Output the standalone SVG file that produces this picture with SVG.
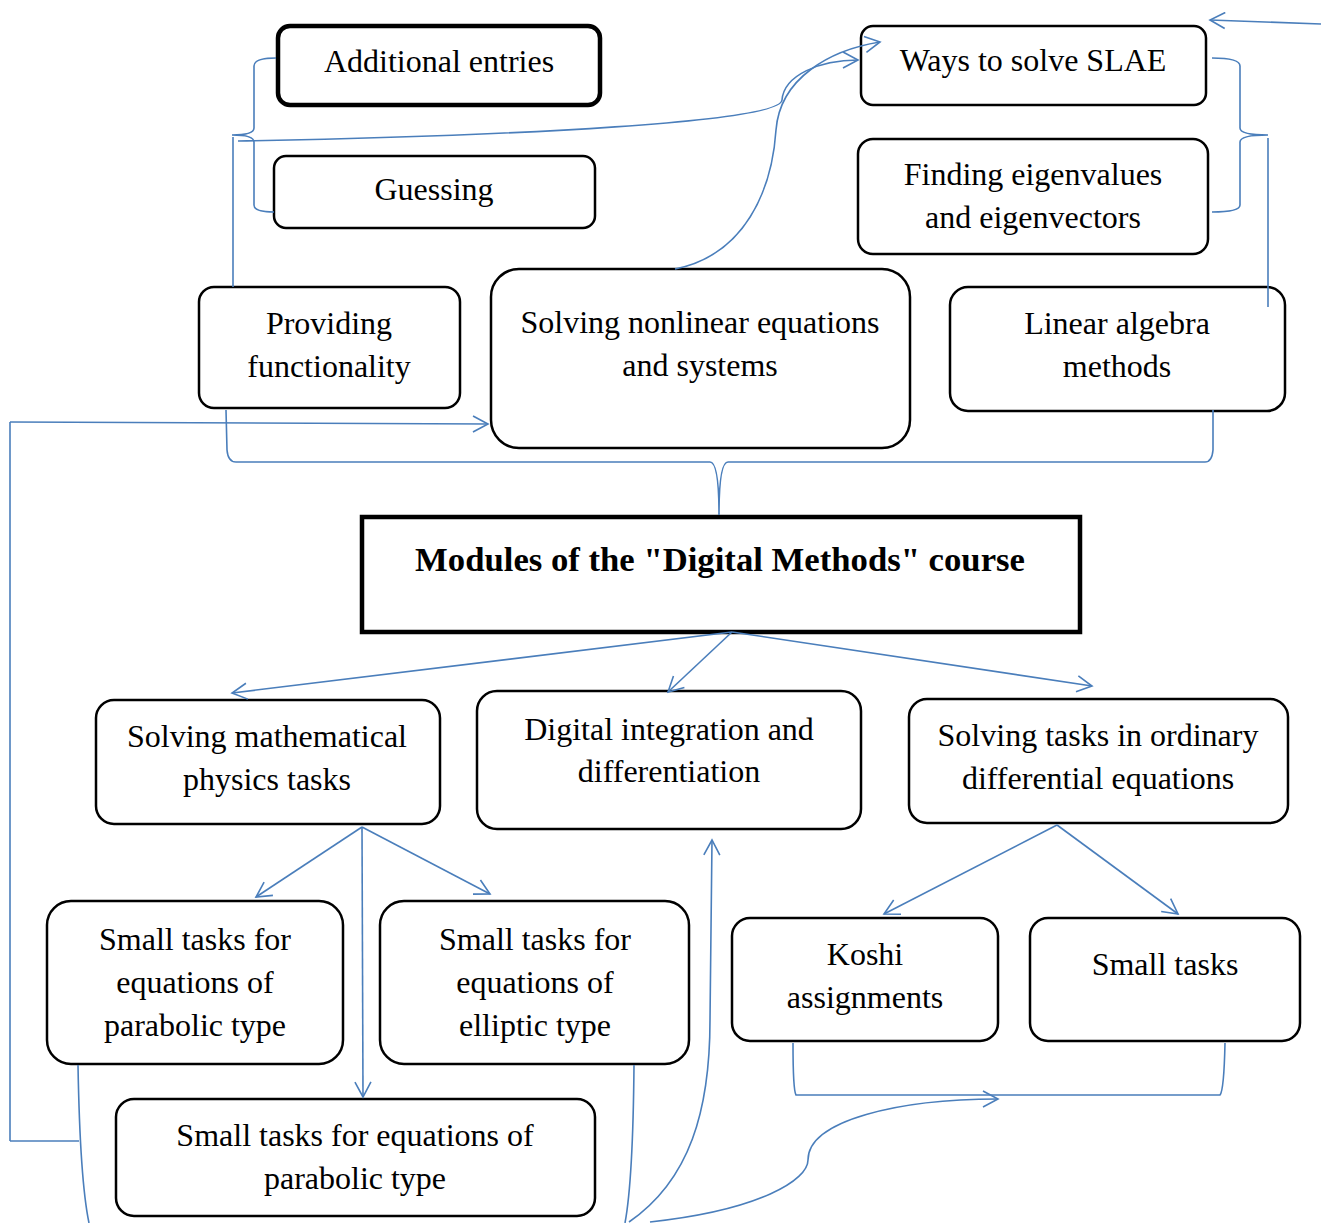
<svg xmlns="http://www.w3.org/2000/svg" width="1322" height="1223" viewBox="0 0 1322 1223">
<defs>
<marker id="arr" markerWidth="18" markerHeight="18" refX="16" refY="9" orient="auto" markerUnits="userSpaceOnUse">
<path d="M1,1 L16,9 L1,17" fill="none" stroke="#4a7ebb" stroke-width="1.6"/>
</marker>
</defs>
<style>
.box{fill:#fff;stroke:#000;stroke-width:2.5}
.thick{stroke-width:4.5}
.t{font-family:"Liberation Serif","Times New Roman",serif;font-size:32px;fill:#000;text-anchor:middle}
.b{font-weight:bold;font-size:34.7px}
.c{fill:none;stroke:#4a7ebb;stroke-width:1.6}
.a{marker-end:url(#arr)}
</style>
<rect width="1322" height="1223" fill="#fff"/>
<g id="n-additional"><rect class="box thick" x="278" y="26" width="322" height="79" rx="12"/><text class="t" x="439" y="72">Additional entries</text></g>
<g id="n-guessing"><rect class="box" x="274" y="156" width="321" height="72" rx="12"/><text class="t" x="434" y="200">Guessing</text></g>
<g id="n-slae"><rect class="box" x="861" y="26" width="345" height="79" rx="12"/><text class="t" x="1033" y="71">Ways to solve SLAE</text></g>
<g id="n-eigen"><rect class="box" x="858" y="139" width="350" height="115" rx="15"/><text class="t" x="1033" y="185">Finding eigenvalues</text><text class="t" x="1033" y="228">and eigenvectors</text></g>
<g id="n-providing"><rect class="box" x="199" y="287" width="261" height="121" rx="15"/><text class="t" x="329" y="334">Providing</text><text class="t" x="329" y="377">functionality</text></g>
<g id="n-nonlinear"><rect class="box" x="491" y="269" width="419" height="179" rx="28"/><text class="t" x="700" y="333">Solving nonlinear equations</text><text class="t" x="700" y="376">and systems</text></g>
<g id="n-linear"><rect class="box" x="950" y="287" width="335" height="124" rx="18"/><text class="t" x="1117" y="334">Linear algebra</text><text class="t" x="1117" y="377">methods</text></g>
<g id="n-modules"><rect class="box thick" x="362" y="517" width="718" height="115"/><text class="t b" x="720" y="571">Modules of the "Digital Methods" course</text></g>
<g id="n-mathphys"><rect class="box" x="96" y="700" width="344" height="124" rx="18"/><text class="t" x="267" y="747">Solving mathematical</text><text class="t" x="267" y="790">physics tasks</text></g>
<g id="n-integration"><rect class="box" x="477" y="691" width="384" height="138" rx="20"/><text class="t" x="669" y="740">Digital integration and</text><text class="t" x="669" y="782">differentiation</text></g>
<g id="n-ode"><rect class="box" x="909" y="699" width="379" height="124" rx="18"/><text class="t" x="1098" y="746">Solving tasks in ordinary</text><text class="t" x="1098" y="789">differential equations</text></g>
<g id="n-parabolic"><rect class="box" x="47" y="901" width="296" height="163" rx="24"/><text class="t" x="195" y="950">Small tasks for</text><text class="t" x="195" y="993">equations of</text><text class="t" x="195" y="1036">parabolic type</text></g>
<g id="n-elliptic"><rect class="box" x="380" y="901" width="309" height="163" rx="24"/><text class="t" x="535" y="950">Small tasks for</text><text class="t" x="535" y="993">equations of</text><text class="t" x="535" y="1036">elliptic type</text></g>
<g id="n-koshi"><rect class="box" x="732" y="918" width="266" height="123" rx="18"/><text class="t" x="865" y="965">Koshi</text><text class="t" x="865" y="1008">assignments</text></g>
<g id="n-small"><rect class="box" x="1030" y="918" width="270" height="123" rx="18"/><text class="t" x="1165" y="975">Small tasks</text></g>
<g id="n-parabolic2"><rect class="box" x="116" y="1099" width="479" height="117" rx="18"/><text class="t" x="355" y="1146">Small tasks for equations of</text><text class="t" x="355" y="1189">parabolic type</text></g>
<g id="connectors">
<path class="c a" d="M1321,24 L1210,20"/>
<path class="c" d="M1212,58 Q1240,58 1240,66 L1240,128 Q1240,135 1268,135 Q1240,135 1240,142 L1240,205 Q1240,212 1212,212"/>
<path class="c" d="M1268,138 L1268,307"/>
<path class="c" d="M276,58 Q254,58 254,66 L254,128 Q254,135 232,135 Q254,135 254,142 L254,205 Q254,212 274,212"/>
<path class="c" d="M233,137 L233,287"/>
<path class="c a" d="M238,141 C520,136 780,122 782,100 C784,75 820,60 858,60"/>
<path class="c a" d="M675,269 C745,255 772,190 776,130 C780,78 830,50 880,42"/>
<path class="c" d="M10,1141 L10,422"/>
<path class="c a" d="M10,422 L488,424"/>
<path class="c" d="M10,1141 L79,1141"/>
<path class="c" d="M226,410 L227,450 Q228,462 236,462 L710,462 Q719,462 719,515 Q719,462 728,462 L1205,462 Q1212,462 1213,450 L1213,410"/>
<path class="c a" d="M732,632 L232,693"/>
<path class="c a" d="M732,632 L668,692"/>
<path class="c a" d="M732,632 L1092,686"/>
<path class="c a" d="M362,827 L256,897"/>
<path class="c a" d="M362,827 L490,894"/>
<path class="c a" d="M362,827 L363,1097"/>
<path class="c a" d="M1057,825 L884,914"/>
<path class="c a" d="M1057,825 L1178,914"/>
<path class="c" d="M793,1043 Q793,1090 796,1095 L1220,1095 Q1224,1090 1225,1043"/>
<path class="c" d="M78,1065 Q80,1180 89,1223"/>
<path class="c" d="M634,1065 Q633,1180 625,1223"/>
<path class="c a" d="M629,1222 C690,1180 710,1110 710,1020 L712,840"/>
<path class="c a" d="M650,1222 C760,1210 808,1180 808,1160 C808,1120 900,1099 998,1099"/>
</g>
</svg>
